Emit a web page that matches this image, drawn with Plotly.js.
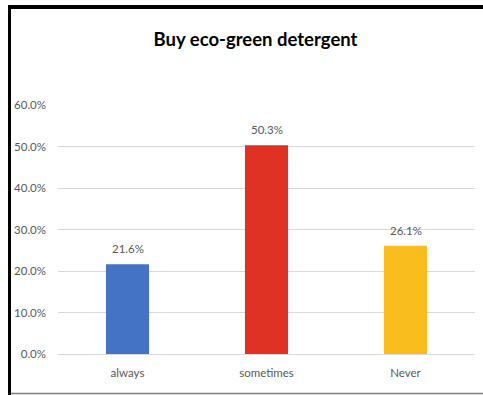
<!DOCTYPE html>
<html>
<head>
<meta charset="utf-8">
<script src="https://cdn.plot.ly/plotly-3.0.1.min.js"></script>
<style>html,body{margin:0;padding:0;background:#fff;}#chart{width:483px;height:395px;}</style>
</head>
<body>
<div id="chart"></div>
<script>
const categories = ["always", "sometimes", "Never"];
const values = [0.216, 0.503, 0.261];
const barColors = ["#4472C4", "#E03224", "#F9BE1E"];
const yTickVals = [0, 0.1, 0.2, 0.3, 0.4, 0.5, 0.6];
const yTickText = ["0.0%", "10.0%", "20.0%", "30.0%", "40.0%", "50.0%", "60.0%"];
const titleText = "Buy eco-green detergent";

const FONT = "Lato, 'Open Sans', sans-serif";
const W = 483, H = 395;
const m = {l: 58, r: 8, t: 105, b: 41};
const pw = W - m.l - m.r, ph = H - m.t - m.b;
const px = x => (x - m.l) / pw;
const py = y => (H - m.b - y) / ph;

const trace = {
  type: "bar",
  x: categories,
  y: values,
  marker: {color: barColors},
  width: 0.31,
  hoverinfo: "skip"
};

const annotations = categories.map((c, i) => ({
  x: c, y: values[i], xref: "x", yref: "y",
  text: (values[i] * 100).toFixed(1) + "%",
  showarrow: false, yanchor: "bottom", yshift: 7,
  font: {family: FONT, size: 11.5, color: "#595959"}
}));

const layout = {
  width: W, height: H,
  margin: m,
  paper_bgcolor: "#fff", plot_bgcolor: "#fff",
  showlegend: false,
  title: {
    text: titleText,
    font: {family: FONT, size: 18.5, color: "#000", weight: 700},
    x: px(255.5), xref: "paper", xanchor: "center",
    y: 1 - 40 / H, yref: "container", yanchor: "middle"
  },
  xaxis: {
    showgrid: false, zeroline: false, showline: false,
    ticks: "", ticklabelstandoff: 10,
    tickfont: {family: FONT, size: 11.5, color: "#595959"},
    fixedrange: true
  },
  yaxis: {
    range: [0, 0.6],
    tickvals: yTickVals, ticktext: yTickText,
    showgrid: true, gridcolor: "#D9D9D9", gridwidth: 1,
    zeroline: true, zerolinecolor: "#D9D9D9", zerolinewidth: 1,
    showline: false, ticks: "", ticklabelstandoff: 11,
    tickfont: {family: FONT, size: 11.5, color: "#595959"},
    fixedrange: true
  },
  annotations: annotations,
  shapes: [
    {type: "line", xref: "paper", yref: "paper", x0: px(9.5), x1: px(9.5), y0: py(5), y1: py(395), line: {color: "#000", width: 3}},
    {type: "line", xref: "paper", yref: "paper", x0: px(8), x1: px(483), y0: py(7), y1: py(7), line: {color: "#000", width: 4}},
    {type: "line", xref: "paper", yref: "paper", x0: px(11), x1: px(483), y0: py(393.5), y1: py(393.5), line: {color: "#7F7F7F", width: 1.5}}
  ]
};

Plotly.newPlot("chart", [trace], layout, {displayModeBar: false, staticPlot: true});
</script>
</body>
</html>
